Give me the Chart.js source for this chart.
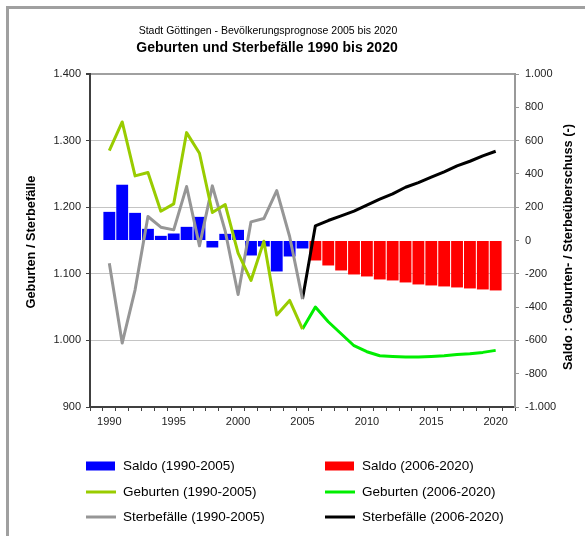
<!DOCTYPE html>
<html>
<head>
<meta charset="utf-8">
<script src="https://cdn.jsdelivr.net/npm/chart.js@4"></script>
<style>
  body { margin: 0; background: #fff; }
</style>
</head>
<body>
<canvas id="bevChart" width="585" height="536"></canvas>
<script>
// Kategorien
const jahre = [1990, 1991, 1992, 1993, 1994, 1995, 1996, 1997, 1998, 1999,
  2000, 2001, 2002, 2003, 2004, 2005, 2006, 2007, 2008, 2009, 2010,
  2011, 2012, 2013, 2014, 2015, 2016, 2017, 2018, 2019, 2020];

// Saldo (rechte Achse)
const saldoBis2005 = [172, 335, 166, 70, 28, 42, 82, 142, -42, 40, 64, -90, -36, -186, -96, -48];
const saldoAb2006 = [-120, -150, -180, -204, -216, -234, -240, -252, -264, -270, -276, -282, -288, -294, -300];

// Geburten / Sterbefaelle (linke Achse)
const geburtenBis2005 = [1285, 1328, 1247, 1252, 1194, 1205, 1312, 1281, 1192, 1204, 1131, 1090, 1149, 1038, 1060, 1017];
const geburtenAb2005 = [1017, 1050, 1028, 1010, 992, 983, 977, 976, 975, 975, 976, 977, 979, 980, 982, 985];
const sterbeBis2005 = [1116, 996, 1076, 1186, 1170, 1166, 1231, 1142, 1232, 1164, 1069, 1178, 1183, 1225, 1156, 1062];
const sterbeAb2005 = [1062, 1172, 1180, 1187, 1194, 1203, 1212, 1220, 1230, 1237, 1245, 1253, 1262, 1269, 1277, 1284];

const FONT = '"Liberation Sans", Arial, sans-serif';

// leere Kategorie links und rechts, wie im Original
const labels = ['', ...jahre.map(String), ''];

// Werte ab einem Startjahr in die Kategorien einsetzen
function setze(werte, abJahr) {
    const out = labels.map(() => null);
    const start = labels.indexOf(String(abJahr));
    werte.forEach((v, i) => { out[start + i] = v; });
    return out;
}

function tausender(v) {
    return String(v).replace(/\B(?=(\d{3})+(?!\d))/g, '.');
}

const extras = {
    id: 'extras',
    beforeDraw(chart) {
        const ctx = chart.ctx;
        ctx.save();
        ctx.fillStyle = '#fff';
        ctx.fillRect(0, 0, chart.width, chart.height);
        ctx.strokeStyle = '#a0a0a0';
        ctx.lineWidth = 3;
        ctx.strokeRect(7.5, 7.5, 700, 700);
        ctx.restore();
    },
    afterDraw(chart) {
        const ctx = chart.ctx;
        ctx.save();
        ctx.fillStyle = '#000';
        ctx.textAlign = 'center';
        ctx.textBaseline = 'middle';

        // Titel
        ctx.font = '10.5px ' + FONT;
        ctx.fillText('Stadt Göttingen - Bevölkerungsprognose 2005 bis 2020', 268, 31);
        ctx.font = 'bold 14px ' + FONT;
        ctx.fillText('Geburten und Sterbefälle 1990 bis 2020', 267, 48.5);

        // Achsentitel
        ctx.font = 'bold 12.8px ' + FONT;
        ctx.save();
        ctx.translate(31, 242);
        ctx.rotate(-Math.PI / 2);
        ctx.fillText('Geburten / Sterbefälle', 0, 0);
        ctx.restore();
        ctx.save();
        ctx.translate(568, 247);
        ctx.rotate(-Math.PI / 2);
        ctx.fillText('Saldo : Geburten- / Sterbeüberschuss (-)', 0, 0);
        ctx.restore();

        // Legende, zwei Spalten
        const spalteX = [86, 325];
        const zeileY = [466, 492, 517];
        ctx.textAlign = 'left';
        ctx.font = '13.5px ' + FONT;
        chart.data.datasets.forEach((ds, i) => {
            const x = spalteX[i % 2];
            const y = zeileY[Math.floor(i / 2)];
            if (ds.type === 'line') {
                ctx.strokeStyle = ds.borderColor;
                ctx.lineWidth = 3;
                ctx.beginPath();
                ctx.moveTo(x, y);
                ctx.lineTo(x + 30, y);
                ctx.stroke();
            } else {
                ctx.fillStyle = ds.backgroundColor;
                ctx.fillRect(x, y - 4.5, 29, 9);
            }
            ctx.fillStyle = '#000';
            ctx.fillText(ds.label, x + 37, y);
        });
        ctx.restore();
    }
};

const lineStyle = {
    type: 'line',
    yAxisID: 'y',
    borderWidth: 3,
    pointRadius: 0,
    tension: 0,
    borderJoinStyle: 'round',
    order: 1
};

new Chart(document.getElementById('bevChart'), {
    type: 'bar',
    data: {
        labels: labels,
        datasets: [{
            label: 'Saldo (1990-2005)',
            data: setze(saldoBis2005, 1990),
            backgroundColor: '#0000ff',
            yAxisID: 'y1',
            grouped: false,
            categoryPercentage: 1,
            barPercentage: 0.92,
            order: 2
        }, {
            label: 'Saldo (2006-2020)',
            data: setze(saldoAb2006, 2006),
            backgroundColor: '#ff0000',
            yAxisID: 'y1',
            grouped: false,
            categoryPercentage: 1,
            barPercentage: 0.92,
            order: 2
        }, {
            ...lineStyle,
            label: 'Geburten (1990-2005)',
            data: setze(geburtenBis2005, 1990),
            borderColor: '#99cc00'
        }, {
            ...lineStyle,
            label: 'Geburten (2006-2020)',
            data: setze(geburtenAb2005, 2005),
            borderColor: '#00ee00'
        }, {
            ...lineStyle,
            label: 'Sterbefälle (1990-2005)',
            data: setze(sterbeBis2005, 1990),
            borderColor: '#969696'
        }, {
            ...lineStyle,
            label: 'Sterbefälle (2006-2020)',
            data: setze(sterbeAb2005, 2005),
            borderColor: '#000000'
        }]
    },
    options: {
        responsive: false,
        animation: false,
        layout: { padding: { top: 74, left: 0, right: 0, bottom: 0 } },
        plugins: {
            legend: { display: false },
            tooltip: { enabled: false }
        },
        scales: {
            x: {
                afterFit(scale) { scale.height = 129; },
                grid: { drawOnChartArea: false, tickLength: 4, tickColor: '#404040', offset: true },
                border: { color: '#404040', width: 2 },
                ticks: {
                    autoSkip: false,
                    maxRotation: 0,
                    padding: 4,
                    color: '#222',
                    font: { family: FONT, size: 11 },
                    callback(val) {
                        const l = this.getLabelForValue(val);
                        return l && Number(l) % 5 === 0 ? l : '';
                    }
                }
            },
            y: {
                position: 'left',
                min: 900,
                max: 1400,
                afterFit(scale) { scale.width = 90; },
                grid: {
                    color: (c) => c.tick && c.tick.value === 1400 ? '#a0a0a0' : '#c4c4c4',
                    lineWidth: (c) => c.tick && c.tick.value === 1400 ? 2 : 1,
                    tickLength: 4,
                    tickColor: '#404040'
                },
                border: { color: '#404040', width: 2 },
                ticks: {
                    stepSize: 100,
                    padding: 5,
                    color: '#222',
                    font: { family: FONT, size: 11 },
                    callback: (v) => tausender(v)
                }
            },
            y1: {
                position: 'right',
                min: -1000,
                max: 1000,
                afterFit(scale) { scale.width = 70; },
                grid: { drawOnChartArea: false, tickLength: 4, tickColor: '#999' },
                border: { color: '#999', width: 2 },
                ticks: {
                    stepSize: 200,
                    padding: 6,
                    color: '#222',
                    font: { family: FONT, size: 11 },
                    callback: (v) => tausender(v)
                }
            }
        }
    },
    plugins: [extras]
});
</script>
</body>
</html>
